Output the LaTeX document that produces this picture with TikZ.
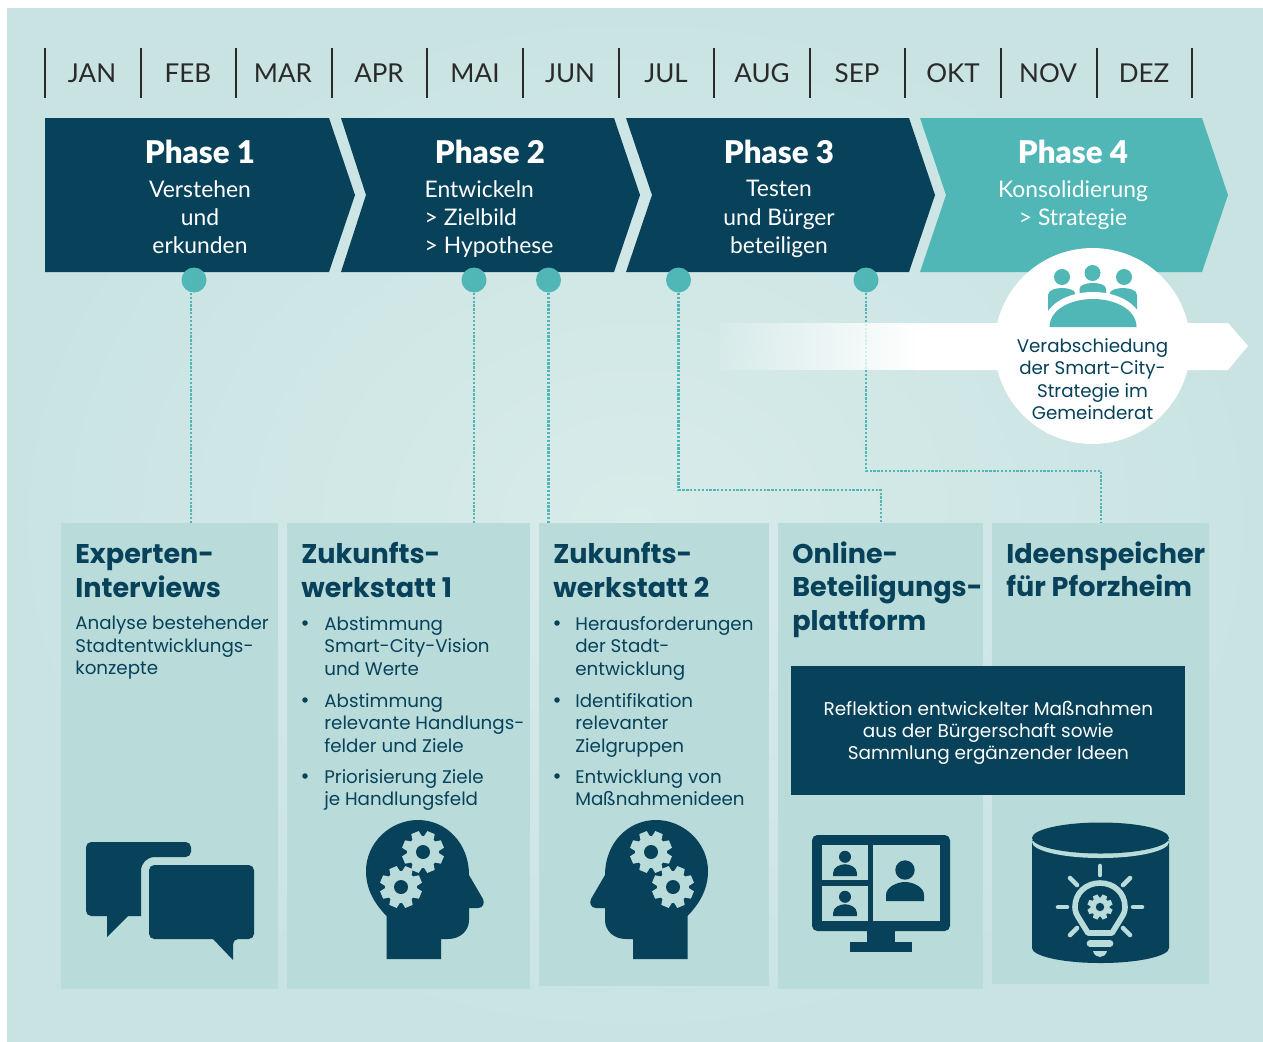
\documentclass[tikz,border=0pt]{standalone}
\usepackage{fontspec}
\setmainfont{Poppins}
\newfontfamily\phasefont{Lato}
\newfontfamily\phaseboldfont{Lato Black}
\usetikzlibrary{arrows.meta}
\usetikzlibrary{fadings}
\definecolor{darkblue}{HTML}{07415A}
\definecolor{teal}{HTML}{50B7B6}
\definecolor{panelbg}{HTML}{B9DBDA}
\definecolor{bgouter}{HTML}{C9E3E3}
\definecolor{bginner}{HTML}{D8ECEA}
\definecolor{monthline}{HTML}{2A2A2A}
\tikzfading[name=bandfade, left color=transparent!90, right color=transparent!0]
\tikzset{
	monthtick/.style={draw=monthline,line width=1.3pt},
	monthlabel/.style={font=\phasefont\fontsize{14.8}{19}\selectfont,text=monthline,inner sep=0pt},
	phasetitle/.style={font=\phaseboldfont\fontsize{17.8}{22}\selectfont,text=white,inner sep=0pt},
	phasetext/.style={font=\phasefont\fontsize{13}{16}\selectfont,text=white,inner sep=0pt},
	dotnode/.style={circle,fill=teal,inner sep=0pt,minimum size=0.5cm},
	dotline/.style={draw=teal,line width=1.4pt,dash pattern=on 1.3pt off 0.9pt},
	panelbox/.style={fill=panelbg,anchor=north west,inner sep=0pt},
	boxtitle/.style={font=\bfseries\fontsize{15.4}{19.2}\selectfont,text=darkblue,align=left,anchor=north west,inner sep=0pt},
	boxtext/.style={font=\fontsize{10.4}{12.75}\selectfont,text=darkblue,align=left,anchor=north west,inner sep=0pt},
	bulletdot/.style={circle,fill=darkblue,inner sep=0pt,minimum size=0.11cm},
	whitetext/.style={font=\fontsize{10.5}{12.75}\selectfont,text=white,align=center,inner sep=0pt},
	gearicon/.pic={
		\fill[panelbg] (0,0) circle (16);
		\foreach \a in {0,45,...,315}
			\fill[panelbg,rotate=\a+22.5] (-4,-21) -- (4,-21) -- (5.5,-13) -- (-5.5,-13) -- cycle;
		\fill[darkblue] (0,0) circle (7);
	},
	headicon/.pic={
		\fill[darkblue] (-31.5,88) -- (-31.5,45) .. controls (-44,32) and (-52,18) .. (-52,0) .. controls (-52,-28) and (-28,-51) .. (0,-51) .. controls (28,-51) and (51,-28) .. (51,4) -- (65,28) .. controls (67,32) and (65,37) .. (60,37) -- (51,37) -- (51,49) .. controls (51,60) and (42,68) .. (30,68) -- (23,68) -- (23,88) -- cycle;
		\pic at (5,-19) {gearicon};
		\pic at (-17,16) {gearicon};
	},
	personicon/.pic={
		\fill[darkblue] (0,-31) circle (9.7);
		\fill[darkblue] (-19,0) -- (-19,-6) .. controls (-19,-14) and (-8,-19) .. (0,-19) .. controls (8,-19) and (19,-14) .. (19,-6) -- (19,0) -- cycle;
	},
	bulbray/.style={draw=panelbg,line width=2.6pt,line cap=round},
}
\begin{document}
\begin{tikzpicture}[x=0.02cm,y=-0.02cm]
	\useasboundingbox (0,0) rectangle (1263,1041);
	\fill[white] (0,0) rectangle (1263,1041);
	\shade[inner color=bginner,outer color=bgouter] (7,8) rectangle (1263,1041);

	\draw[monthtick] (45,48) -- (45,98);
	\draw[monthtick] (141,48) -- (141,98);
	\draw[monthtick] (236,48) -- (236,98);
	\draw[monthtick] (332,48) -- (332,98);
	\draw[monthtick] (427,48) -- (427,98);
	\draw[monthtick] (523,48) -- (523,98);
	\draw[monthtick] (619,48) -- (619,98);
	\draw[monthtick] (714,48) -- (714,98);
	\draw[monthtick] (810,48) -- (810,98);
	\draw[monthtick] (905,48) -- (905,98);
	\draw[monthtick] (1001,48) -- (1001,98);
	\draw[monthtick] (1097,48) -- (1097,98);
	\draw[monthtick] (1192,48) -- (1192,98);
	\node[monthlabel] (jan) at (92,73.5) {JAN};
	\node[monthlabel] (feb) at (188,73.5) {FEB};
	\node[monthlabel] (mar) at (283,73.5) {MAR};
	\node[monthlabel] (apr) at (379,73.5) {APR};
	\node[monthlabel] (mai) at (475,73.5) {MAI};
	\node[monthlabel] (jun) at (570,73.5) {JUN};
	\node[monthlabel] (jul) at (666,73.5) {JUL};
	\node[monthlabel] (aug) at (762,73.5) {AUG};
	\node[monthlabel] (sep) at (857,73.5) {SEP};
	\node[monthlabel] (okt) at (953,73.5) {OKT};
	\node[monthlabel] (nov) at (1048,73.5) {NOV};
	\node[monthlabel] (dez) at (1144,73.5) {DEZ};

	\fill[darkblue] (45,118) -- (329,118) -- (355,195) -- (329,272) -- (45,272) -- cycle;
	\fill[darkblue] (341,118) -- (614,118) -- (640,195) -- (614,272) -- (341,272) -- (366,195) -- cycle;
	\fill[darkblue] (626,118) -- (909,118) -- (935,195) -- (909,272) -- (626,272) -- (652,195) -- cycle;
	\fill[teal] (920,118) -- (1202,118) -- (1228,195) -- (1202,272) -- (920,272) -- (946,195) -- cycle;
	\node[phasetitle] (titleA) at (200,152) {Phase 1};
	\node[phasetitle] (titleB) at (490,152) {Phase 2};
	\node[phasetitle] (titleC) at (779,152) {Phase 3};
	\node[phasetitle] (titleD) at (1073,152) {Phase 4};
	\node[phasetext,align=center] (textA) at (200,217) {Verstehen\\und\\erkunden};
	\node[phasetext,align=left] (textB) at (489,219) {Entwickeln\\> Zielbild\\> Hypothese};
	\node[phasetext,align=center] (textC) at (779,219) {Testen\\und Bürger\\beteiligen};
	\node[phasetext,align=center] (textD) at (1073,205) {Konsolidierung\\> Strategie};

	\node[panelbox,minimum width=4.34cm,minimum height=9.32cm] (boxA) at (61,523) {};
	\node[panelbox,minimum width=4.86cm,minimum height=9.32cm] (boxB) at (287,523) {};
	\node[panelbox,minimum width=4.60cm,minimum height=9.26cm] (boxC) at (539,523) {};
	\node[panelbox,minimum width=4.10cm,minimum height=9.32cm] (boxD) at (778,523) {};
	\node[panelbox,minimum width=4.34cm,minimum height=9.22cm] (boxE) at (992,523) {};

	\node[dotnode] (dotA) at (194,280) {};
	\node[dotnode] (dotB) at (474,280) {};
	\node[dotnode] (dotC) at (548.5,280) {};
	\node[dotnode] (dotD) at (678.5,280) {};
	\node[dotnode] (dotE) at (866,280) {};
	\coordinate (bendD) at (678.5,490);
	\coordinate (bendE) at (866,471);
	\draw[dotline] ([xshift=-0.06cm]dotA.south) -- ([xshift=-0.06cm]dotA.south |- boxA.north);
	\draw[dotline] (dotB.south) -- (dotB.south |- boxB.north);
	\draw[dotline] (dotC.south) -- (dotC.south |- boxC.north);
	\draw[dotline] (dotD.south) -- (bendD) -| (boxD.north);
	\draw[dotline] (dotE.south) -- (bendE) -| (boxE.north);

	\fill[white,path fading=bandfade] (720,323) rectangle (915,370);
	\fill[white] (915,323) -- (1228,323) -- (1248,346) -- (1228,370) -- (915,370) -- cycle;
	\node[circle,fill=white,inner sep=0pt,minimum size=3.92cm] (councilcircle) at (1092.5,346) {};
	\fill[teal] (1048,316) -- (1048,295) .. controls (1048,290) and (1056,288) .. (1062,288) .. controls (1068,288) and (1075,290) .. (1075,293) -- (1075,316) -- cycle;
	\fill[teal] (1110,316) -- (1110,293) .. controls (1110,290) and (1117,288) .. (1123,288) .. controls (1129,288) and (1137,290) .. (1137,295) -- (1137,316) -- cycle;
	\fill[teal] (1079.5,296) -- (1079.5,289) .. controls (1079.5,285) and (1086,283) .. (1093,283) .. controls (1100,283) and (1106,285) .. (1106,289) -- (1106,296) -- cycle;
	\fill[white] (1043,327) .. controls (1043,306) and (1066,292) .. (1093,292) .. controls (1120,292) and (1143,306) .. (1143,327) -- cycle;
	\fill[teal] (1049.5,327) .. controls (1049.5,310) and (1070,299) .. (1093,299) .. controls (1116,299) and (1136.5,310) .. (1136.5,327) -- cycle;
	\fill[teal] (1062,277) circle (8);
	\fill[teal] (1092.5,273) circle (8);
	\fill[teal] (1124,277) circle (8);
	\node[font=\fontsize{10.4}{12.75}\selectfont,text=darkblue,align=center,inner sep=0pt] (councillabel) at (1092.5,379) {Verabschiedung\\der Smart-City-\\Strategie im\\Gemeinderat};

	\node[boxtitle] (headA) at (75,544) {Experten-\\Interviews};
	\node[boxtext] (bodyA) at (75,616) {Analyse bestehender\\Stadtentwicklungs-\\konzepte};

	\node[boxtitle] (headB) at (301,542) {Zukunfts-\\werkstatt 1};
	\node[bulletdot] (bulletBa) at (305,623) {};
	\node[boxtext] (itemBa) at (324,616) {Abstimmung\\Smart-City-Vision\\und Werte};
	\node[bulletdot] (bulletBb) at (305,700) {};
	\node[boxtext] (itemBb) at (324,693) {Abstimmung\\relevante Handlungs-\\felder und Ziele};
	\node[bulletdot] (bulletBc) at (305,776) {};
	\node[boxtext] (itemBc) at (324,769) {Priorisierung Ziele\\je Handlungsfeld};

	\node[boxtitle] (headC) at (553,542) {Zukunfts-\\werkstatt 2};
	\node[bulletdot] (bulletCa) at (557,623) {};
	\node[boxtext] (itemCa) at (575,616) {Herausforderungen\\der Stadt-\\entwicklung};
	\node[bulletdot] (bulletCb) at (557,700) {};
	\node[boxtext] (itemCb) at (575,693) {Identifikation\\relevanter\\Zielgruppen};
	\node[bulletdot] (bulletCc) at (557,776) {};
	\node[boxtext] (itemCc) at (575,769) {Entwicklung von\\Maßnahmenideen};

	\node[boxtitle] (headD) at (792,541) {Online-\\Beteiligungs-\\plattform};
	\node[boxtitle] (headE) at (1006,541) {Ideenspeicher\\für Pforzheim};

	\node[panelbox,fill=darkblue,minimum width=7.88cm,minimum height=2.58cm] (reflectbox) at (791,666) {};
	\node[whitetext] (reflecttext) at ([yshift=-0.04cm]reflectbox.center) {Reflektion entwickelter Maßnahmen\\aus der Bürgerschaft sowie\\Sammlung ergänzender Ideen};

	\fill[darkblue,rounded corners=3pt] (86,842) -- (191,842) -- (191,857) [sharp corners] -- (155,857) .. controls (147,857) and (141,863) .. (141,871) -- (141,916) -- (128,916) -- (107,937) -- (107,916) [rounded corners=3pt] -- (86,916) -- cycle;
	\fill[darkblue,rounded corners=3pt] (149,865) -- (254,865) -- (254,939) -- (233,939) [sharp corners] -- (233,960) -- (213,939) [rounded corners=3pt] -- (149,939) -- cycle;

	\pic at (418,871) {headicon};
	\pic[xscale=-1] at (656,871) {headicon};

	\fill[darkblue,rounded corners=3pt] (812,835) rectangle (950,931);
	\fill[darkblue] (867,931) rectangle (895,942);
	\fill[darkblue] (850,942) rectangle (912,952);
	\fill[panelbg] (822,845) rectangle (868,880);
	\fill[panelbg] (822,886) rectangle (868,921);
	\fill[panelbg] (873,845) rectangle (940,921);
	\pic at (905,901) {personicon};
	\pic[scale=0.62] at (845,876) {personicon};
	\pic[scale=0.62] at (845,916) {personicon};

	\fill[darkblue] (1032,840) -- (1032,948) .. controls (1032,956) and (1062,963) .. (1100.5,963) .. controls (1139,963) and (1169,956) .. (1169,948) -- (1169,840) -- cycle;
	\fill[panelbg] (1100.5,842) ellipse (68.5 and 16);
	\fill[darkblue] (1100.5,838) ellipse (68.5 and 15.5);
	\draw[draw=panelbg,line width=3.2pt,line join=round] (1088,933) -- (1080,920) .. controls (1076,914) and (1075,911) .. (1075,907) .. controls (1075,893) and (1086,883) .. (1100,883) .. controls (1114,883) and (1125,893) .. (1125,907) .. controls (1125,911) and (1124,914) .. (1120,920) -- (1112,933) -- cycle;
	\pic[scale=0.6] at (1100,907) {gearicon};
	\draw[bulbray,line width=3.8pt] (1090,943.5) -- (1110,943.5);
	\fill[panelbg] (1093,951) -- (1107,951) .. controls (1106,955) and (1103,957) .. (1100,957) .. controls (1097,957) and (1094,955) .. (1093,951) -- cycle;
	\draw[bulbray] (1100,866) -- (1100,875);
	\draw[bulbray] (1070,878) -- (1077,885);
	\draw[bulbray] (1130,878) -- (1123,885);
	\draw[bulbray] (1058,907) -- (1067,907);
	\draw[bulbray] (1133,907) -- (1142,907);
	\draw[bulbray] (1070,935) -- (1077,928);
	\draw[bulbray] (1130,935) -- (1123,928);
\end{tikzpicture}
\end{document}
